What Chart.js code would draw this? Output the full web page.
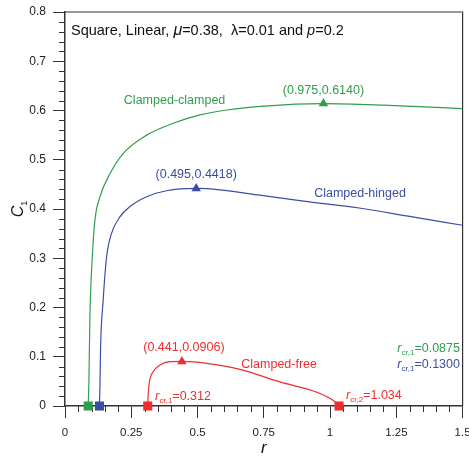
<!DOCTYPE html>
<html>
<head>
<meta charset="utf-8">
<script src="https://cdn.jsdelivr.net/npm/chart.js@4/dist/chart.umd.min.js"></script>
<style>
html, body { margin: 0; padding: 0; background: #fff; }
#wrap { width: 469px; height: 456px; }
</style>
</head>
<body>
<div id="wrap"><canvas id="c"></canvas></div>
<script>
// Clamped-clamped
const ccR = [0.0875, 0.090, 0.094, 0.103, 0.113, 0.132, 0.170, 0.220, 0.308, 0.408, 0.509, 0.610, 0.750, 0.975, 1.200, 1.500]
const ccC = [0, 0.046, 0.181, 0.303, 0.378, 0.425, 0.472, 0.513, 0.550, 0.574, 0.591, 0.601, 0.609, 0.614, 0.611, 0.604]
// Clamped-hinged
const chR = [0.130, 0.132, 0.134, 0.144, 0.157, 0.176, 0.207, 0.245, 0.308, 0.383, 0.495, 0.584, 0.735, 0.900, 1.110, 1.300, 1.500]
const chC = [0, 0.046, 0.114, 0.215, 0.303, 0.351, 0.384, 0.405, 0.425, 0.437, 0.4418, 0.439, 0.428, 0.416, 0.402, 0.385, 0.367]
// Clamped-free
const cfR = [0.312, 0.314, 0.320, 0.333, 0.358, 0.396, 0.441, 0.534, 0.660, 0.810, 0.950, 1.010, 1.034]
const cfC = [0, 0.026, 0.053, 0.070, 0.083, 0.090, 0.0906, 0.0867, 0.0745, 0.049, 0.028, 0.012, 0]

const critR = [0.0875, 0.1300, 0.312, 1.034]
const peakR = [0.975, 0.495, 0.441]
const peakC = [0.6140, 0.4418, 0.0906]

const GREEN = '#2f9e4c'
const BLUE = '#3a4ea4'
const RED = '#ee2d2d'
const AXIS = '#333333'
const FONT = "'Liberation Sans', Arial, sans-serif"

const pts = (xs, ys) => xs.map((x, i) => ({ x, y: ys[i] }))
const isMajor = (v, step) => Math.abs(v / step - Math.round(v / step)) < 1e-6

function curve(label, xs, ys, color) {
  return {
    label, data: pts(xs, ys), showLine: true, borderColor: color, borderWidth: 1.2,
    pointRadius: 0, cubicInterpolationMode: 'monotone', fill: false,
  }
}

function drawRich(ctx, parts, x, y, align) {
  let w = 0
  parts.forEach(p => {
    ctx.font = `${p.italic ? 'italic ' : ''}${p.size}px ${FONT}`
    p.w = ctx.measureText(p.t).width
    w += p.w
  })
  let cx = align === 'right' ? x - w : align === 'center' ? x - w / 2 : x
  ctx.textAlign = 'left'
  ctx.textBaseline = 'alphabetic'
  parts.forEach(p => {
    ctx.font = `${p.italic ? 'italic ' : ''}${p.size}px ${FONT}`
    ctx.fillText(p.t, cx, y + (p.dy || 0))
    cx += p.w
  })
}

const rcr = (sub, val) => [
  { t: 'r', size: 13, italic: true },
  { t: sub, size: 8, dy: 3 },
  { t: '=' + val, size: 12.5 },
]

const decor = {
  id: 'decor',
  beforeDatasetsDraw(chart) {
    const { ctx, chartArea: a, scales: { x, y } } = chart
    ctx.save()
    ctx.strokeStyle = AXIS
    ctx.lineWidth = 1.2
    ctx.beginPath()
    ctx.moveTo(a.left, a.top); ctx.lineTo(a.right, a.top); ctx.lineTo(a.right, a.bottom)
    ctx.stroke()
    // minor ticks
    ctx.lineWidth = 1
    ctx.beginPath()
    x.ticks.forEach(t => {
      if (isMajor(t.value, 0.25)) return
      const px = Math.round(x.getPixelForValue(t.value)) + 0.5
      ctx.moveTo(px, a.bottom); ctx.lineTo(px, a.bottom + 6)
    })
    y.ticks.forEach(t => {
      if (isMajor(t.value, 0.1)) return
      const py = Math.round(y.getPixelForValue(t.value)) + 0.5
      ctx.moveTo(a.left, py); ctx.lineTo(a.left - 6, py)
    })
    ctx.stroke()
    ctx.restore()
  },
  afterDatasetsDraw(chart) {
    const { ctx, chartArea: a, scales: { x, y } } = chart
    const X = v => x.getPixelForValue(v)
    const Y = v => y.getPixelForValue(v)
    ctx.save()
    // title
    ctx.fillStyle = '#111'
    drawRich(ctx, [
      { t: 'Square, Linear, ', size: 14.5 },
      { t: 'μ', size: 16, italic: true },
      { t: '=0.38,  λ=0.01 and ', size: 14.5 },
      { t: 'p', size: 14.5, italic: true },
      { t: '=0.2', size: 14.5 },
    ], a.left + 6, a.top + 23, 'left')

    const peakText = i => `(${peakR[i].toFixed(3)},${peakC[i].toFixed(4)})`
    // clamped-clamped
    ctx.fillStyle = GREEN
    drawRich(ctx, [{ t: 'Clamped-clamped', size: 12.5 }], X(0.222), Y(0.614), 'left')
    drawRich(ctx, [{ t: peakText(0), size: 12.5 }], X(peakR[0]), Y(peakC[0]) - 10, 'center')
    drawRich(ctx, rcr('cr,1', critR[0].toFixed(4)), X(1.49), Y(0.109), 'right')
    // clamped-hinged
    ctx.fillStyle = BLUE
    drawRich(ctx, [{ t: peakText(1), size: 12.5 }], X(peakR[1]), Y(peakC[1]) - 10, 'center')
    drawRich(ctx, [{ t: 'Clamped-hinged', size: 12.5 }], X(0.94), Y(0.424), 'left')
    drawRich(ctx, rcr('cr,1', critR[1].toFixed(4)), X(1.49), Y(0.077), 'right')
    // clamped-free
    ctx.fillStyle = RED
    drawRich(ctx, [{ t: peakText(2), size: 12.5 }], X(peakR[2]) + 2, Y(peakC[2]) - 10, 'center')
    drawRich(ctx, [{ t: 'Clamped-free', size: 12.5 }], X(0.665), Y(0.077), 'left')
    drawRich(ctx, rcr('cr,1', critR[2].toFixed(3)), X(0.34), Y(0.012), 'left')
    drawRich(ctx, rcr('cr,2', critR[3].toFixed(3)), X(1.06), Y(0.014), 'left')

    // axis titles
    ctx.fillStyle = '#111'
    drawRich(ctx, [{ t: 'r', size: 17, italic: true }], X(0.75), a.bottom + 47, 'center')
    ctx.translate(17, (a.top + a.bottom) / 2)
    ctx.rotate(-Math.PI / 2)
    drawRich(ctx, [{ t: 'C', size: 16, italic: true }, { t: '1', size: 9, dy: 4 }], 0, 6, 'center')
    ctx.restore()
  },
}

const ctx = document.getElementById('c')
new Chart(ctx, {
  type: 'scatter',
  data: {
    datasets: [
      curve('Clamped-clamped', ccR, ccC, GREEN),
      curve('Clamped-hinged', chR, chC, BLUE),
      curve('Clamped-free', cfR, cfC, RED),
      {
        label: 'critical', data: critR.map(r => ({ x: r, y: 0 })), pointStyle: 'rect', pointRadius: 6.4,
        backgroundColor: [GREEN, BLUE, RED, RED], borderWidth: 0, clip: false,
      },
      {
        label: 'peaks', data: pts(peakR, peakC), pointStyle: 'triangle', pointRadius: 5.5,
        backgroundColor: [GREEN, BLUE, RED], borderWidth: 0, clip: false,
      },
    ],
  },
  options: {
    responsive: true,
    maintainAspectRatio: false,
    animation: false,
    events: [],
    layout: { padding: { left: 0, top: 12, right: 6, bottom: 0 } },
    plugins: { legend: { display: false }, tooltip: { enabled: false } },
    scales: {
      x: {
        type: 'linear', min: 0, max: 1.5,
        ticks: {
          stepSize: 0.05, maxTicksLimit: 100, autoSkip: false, maxRotation: 0, padding: 8,
          color: '#222', font: { family: FONT, size: 11.5 },
          callback: v => (isMajor(v, 0.25) ? String(+v.toFixed(2)) : ''),
        },
        grid: {
          display: true, drawOnChartArea: false, drawTicks: true, tickLength: 12, tickWidth: 1,
          tickColor: c => (isMajor(c.tick.value, 0.25) ? AXIS : 'transparent'),
        },
        border: { display: true, color: AXIS, width: 1.5 },
        afterFit: s => { s.height = 50; s.paddingLeft = 0; s.paddingRight = 0 },
      },
      y: {
        type: 'linear', min: 0, max: 0.8,
        ticks: {
          stepSize: 0.02, maxTicksLimit: 100, autoSkip: false, padding: 7,
          color: '#222', font: { family: FONT, size: 12 },
          callback: v => (isMajor(v, 0.1) ? String(+v.toFixed(1)) : ''),
        },
        grid: {
          display: true, drawOnChartArea: false, drawTicks: true, tickLength: 12, tickWidth: 1,
          tickColor: c => (isMajor(c.tick.value, 0.1) ? AXIS : 'transparent'),
        },
        border: { display: true, color: AXIS, width: 1.5 },
        afterFit: s => { s.width = 65; s.paddingTop = 0; s.paddingBottom = 0 },
      },
    },
  },
  plugins: [decor],
})
</script>
</body>
</html>
